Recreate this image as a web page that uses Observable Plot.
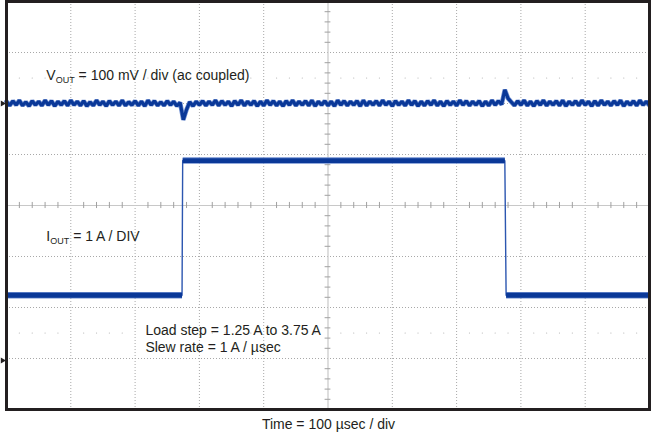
<!DOCTYPE html>
<html><head><meta charset="utf-8">
<script src="https://cdn.jsdelivr.net/npm/d3@7"></script>
<script src="https://cdn.jsdelivr.net/npm/@observablehq/plot@0.6"></script>
<style>
body{margin:0;background:#fff;font-family:Arial,"Liberation Sans",sans-serif;}
svg{display:block}
#cap{font-size:14px;line-height:16px;text-align:center;padding-top:5px;padding-left:6px;color:#231f20;}
</style></head><body><div id="chart"></div><div id="cap"></div>
<script>
// Time axis: 100 µs / div, 10 divisions
const timeDivUs = [0,100,200,300,400,500,600,700,800,900,1000];
const vertDiv = [-4,-3,-2,-1,0,1,2,3,4];

// VOUT trace (ac coupled, mV), sampled every 5 µs from 0 to 1000 µs; channel offset +2 div, 100 mV/div
const voutStepUs = 5;
const voutOffsetDiv = 2;
const voutMv = [
 4,-4,5,-3,6,-4,3,-5,5,-3,4,-4,6,-3,5,-5,4,-3,5,-4,
 6,-3,4,-4,5,-5,3,-4,6,-3,4,-5,5,-3,4,-4,6,-4,3,-3,
 5,-4,4,-5,6,-3,5,-4,3,-4,5,-3,4,-5,2,-32,-12,3,-5,4,
 -3,5,-4,4,-3,6,-4,5,-3,4,-5,5,-3,6,-4,4,-3,5,-5,4,
 -4,6,-3,5,-4,4,-5,5,-3,6,-4,4,-3,5,-4,6,-5,4,-3,5,
 -4,4,-5,6,-3,5,-4,4,-3,5,-5,6,-4,4,-3,5,-4,6,-3,4,
 -5,5,-3,4,-4,6,-3,5,-5,4,-4,5,-3,6,-4,4,-5,5,-3,4,
 -4,6,-3,5,-4,4,-3,5,-5,4,-4,6,-3,5,-2,27,10,3,-4,5,
 -3,6,-4,4,-5,5,-3,6,-4,4,-3,5,-4,6,-5,4,-3,5,-4,6,
 -3,4,-5,5,-4,6,-3,4,-4,5,-3,6,-5,4,-3,5,-4,6,-3,4,
 -4
];

// IOUT trace (A), 1 A/div; channel ground marker at -3.04 div
const ioutOffsetDiv = -3.04;
const ioutTimeUs = [0, 273, 274, 775, 777, 1000];
const ioutAmps   = [1.28, 1.28, 3.92, 3.92, 1.28, 1.28];

// Annotations
const labels = [
  {t: 62, d: 2.54, text: "V_OUT = 100 mV / div (ac coupled)"},
  {t: 62, d: -0.60, text: "I_OUT = 1 A / DIV"},
  {t: 216, d: -2.46, text: "Load step = 1.25 A to 3.75 A"},
  {t: 216, d: -2.775, text: "Slew rate = 1 A / µsec"}
];
const captionText = "Time = 100 µsec / div";

// Build tables
const vout = voutMv.map((mv, i) => ({t: i * voutStepUs, d: voutOffsetDiv + mv / 100}));
const iout = ioutTimeUs.map((t, i) => ({t, d: ioutOffsetDiv + ioutAmps[i]}));
const ioutLevels = [];
for (let i = 0; i < iout.length - 1; i++) {
  if (ioutAmps[i] === ioutAmps[i + 1]) ioutLevels.push({t1: iout[i].t, t2: iout[i + 1].t, d: iout[i].d});
}
const minorX = [];
for (let t = 20; t < 1000; t += 20) if (t % 100 !== 0) minorX.push(t);
const minorY = [];
for (let k = -19; k <= 19; k++) if (k % 5 !== 0) minorY.push(k / 5);
const dotRows = [];
for (const d of [2.5, -2.5]) for (const t of minorX) dotRows.push({t, d});
const markers = [{d: voutOffsetDiv}, {d: ioutOffsetDiv}];

const core = "#0a3898", halo = "#6f8ed0";

const plot = Plot.plot({
  width: 651, height: 411,
  marginLeft: 6, marginRight: 2, marginTop: 1, marginBottom: 2,
  x: {domain: [0, 1000], axis: null},
  y: {domain: [-4, 4], axis: null},
  style: {fontFamily: "Arial, 'Liberation Sans', sans-serif", background: "#fff"},
  marks: [
    Plot.ruleX(timeDivUs.filter(t => t !== 0 && t !== 500 && t !== 1000), {stroke: "#a8a8a8", strokeDasharray: "1,2", strokeWidth: 1}),
    Plot.ruleY(vertDiv.filter(d => Math.abs(d) !== 4 && d !== 0), {stroke: "#a8a8a8", strokeDasharray: "1,2", strokeWidth: 1}),
    Plot.ruleX([500], {stroke: "#c8c8c8", strokeWidth: 1.2}),
    Plot.ruleY([0], {stroke: "#c8c8c8", strokeWidth: 1.2}),
    Plot.ruleX(minorX, {y1: -0.06, y2: 0.06, stroke: "#a0a0a0"}),
    Plot.ruleY(minorY, {x1: 495.5, x2: 504.5, stroke: "#a0a0a0"}),
    Plot.dot(dotRows, {x: "t", y: "d", r: 0.6, fill: "#b0b0b0", stroke: "none"}),
    Plot.line(vout, {x: "t", y: "d", stroke: halo, strokeWidth: 4.6, strokeLinejoin: "miter"}),
    Plot.line(vout, {x: "t", y: "d", stroke: core, strokeWidth: 3.2, strokeLinejoin: "miter"}),
    Plot.link(ioutLevels, {x1: "t1", x2: "t2", y1: "d", y2: "d", stroke: halo, strokeWidth: 6.5}),
    Plot.line(iout, {x: "t", y: "d", stroke: "#2c56b0", strokeWidth: 1.4}),
    Plot.link(ioutLevels, {x1: "t1", x2: "t2", y1: "d", y2: "d", stroke: core, strokeWidth: 4.8}),
    Plot.dot(markers, {x: 0, y: "d", symbol: "triangle", rotate: 90, r: 2.2, fill: "#231f20", stroke: "none", dx: -4}),
    Plot.text(labels, {x: "t", y: "d", text: "text", textAnchor: "start", fontSize: 14, fill: "#231f20"}),
    Plot.frame({stroke: "#231f20", strokeWidth: 3})
  ]
});

// subscripts
d3.select(plot).selectAll("text").each(function () {
  const s = this.textContent;
  const m = s.match(/^(.)_([A-Z]+)(.*)$/);
  if (!m) return;
  const el = d3.select(this);
  el.text(null);
  el.append("tspan").text(m[1]);
  el.append("tspan").attr("font-size", 9).attr("dy", "3").text(m[2]);
  el.append("tspan").attr("dy", "-3").text(m[3]);
});

document.getElementById("chart").appendChild(plot);
document.getElementById("cap").textContent = captionText;
</script></body></html>
